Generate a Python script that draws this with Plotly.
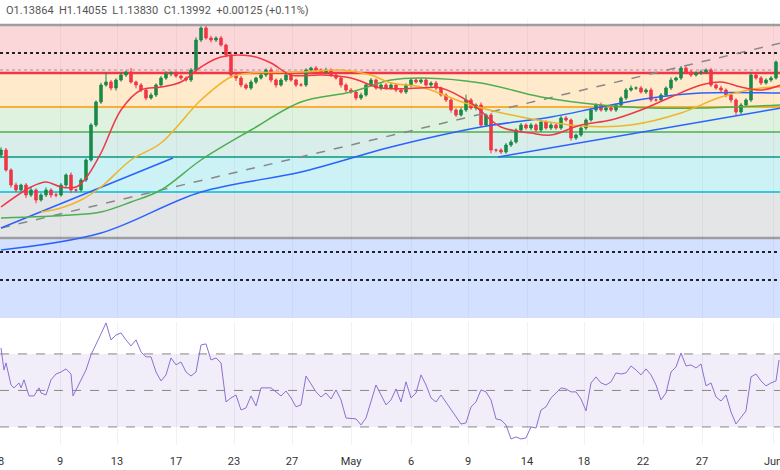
import plotly.graph_objects as go

closes = [1.1135,1.1075,1.1030,1.1015,1.1030,1.1000,1.1015,1.0985,1.1000,1.1015,1.1000,1.1000,1.1030,1.1060,1.1015,1.1015,1.1045,1.1105,1.1210,1.1279,
1.1330,1.1339,1.1321,1.1345,1.1360,1.1369,1.1339,1.1330,1.1315,1.1291,1.1300,1.1330,1.1351,1.1363,1.1366,1.1357,1.1351,1.1345,1.1375,1.1465,
1.1501,1.1471,1.1465,1.1471,1.1450,1.1420,1.1360,1.1351,1.1330,1.1321,1.1339,1.1351,1.1360,1.1375,1.1345,1.1330,1.1345,1.1360,1.1345,1.1330,
1.1330,1.1375,1.1381,1.1375,1.1369,1.1375,1.1360,1.1351,1.1330,1.1315,1.1309,1.1291,1.1300,1.1330,1.1345,1.1321,1.1330,1.1321,1.1330,1.1315,
1.1309,1.1330,1.1345,1.1339,1.1345,1.1330,1.1336,1.1321,1.1300,1.1285,1.1255,1.1240,1.1255,1.1285,1.1261,1.1270,1.1210,1.1240,1.1135,1.1135,
1.1129,1.1150,1.1159,1.1195,1.1210,1.1201,1.1210,1.1195,1.1219,1.1201,1.1210,1.1201,1.1231,1.1225,1.1171,1.1180,1.1201,1.1225,1.1255,1.1270,
1.1255,1.1261,1.1255,1.1270,1.1291,1.1315,1.1321,1.1321,1.1309,1.1315,1.1285,1.1285,1.1300,1.1321,1.1345,1.1351,1.1381,1.1369,1.1360,1.1366,
1.1369,1.1375,1.1330,1.1321,1.1315,1.1300,1.1285,1.1249,1.1270,1.1285,1.1360,1.1351,1.1336,1.1345,1.1351,1.1399]
first_open = 1.1120
up_wick = [8,6,5,7,4,6,9,5,6,8,5,7,6,5,8,4,6,5,6,5,
7,30,6,5,8,5,12,4,6,5,7,5,6,8,5,6,4,5,6,8,
5,6,7,5,6,4,10,5,6,5,7,4,6,5,8,5,6,5,7,4,
6,5,4,6,5,7,5,6,4,5,6,5,7,5,6,4,5,6,7,5,
6,5,4,6,5,7,5,6,4,5,6,5,7,16,6,5,8,5,6,4,
5,6,7,5,6,5,6,5,7,5,6,5,7,6,5,4,6,5,6,5,
7,5,6,4,5,6,8,5,6,5,7,5,6,5,8,4,6,5,6,5,
7,5,6,5,7,5,6,5,6,5,8,5,6,5,6,5]
dn_wick = [7,5,8,6,5,9,6,10,5,6,8,7,5,6,9,7,5,6,5,6,
6,5,7,8,5,6,5,10,6,7,5,6,5,6,7,5,6,5,6,5,
6,5,7,6,5,6,8,9,7,5,6,6,5,6,7,8,5,6,5,6,
5,6,5,7,6,5,6,5,8,6,5,7,6,5,6,5,7,6,5,6,
5,6,7,5,6,5,6,7,5,6,8,6,5,6,5,7,6,5,10,7,
6,5,6,5,6,5,7,5,6,5,6,5,6,5,8,6,5,6,5,6,
5,6,5,6,5,6,5,6,5,6,6,5,6,5,6,5,6,5,6,5,
6,5,6,5,6,7,8,10,6,5,6,5,6,5,6,5]

ma20_t = [0,6,9,12,15,17,20,24,28,32,36,40,44,50,54,58,64,70,76,84,88,94,100,106,110,116,122,128,134,140,144,148,152,156]
ma20 = [1.0964,1.1024,1.1039,1.1024,1.1024,1.1051,1.1126,1.1255,1.1315,1.1324,1.1339,1.1384,1.1414,1.1417,1.1396,1.1360,1.1360,1.1351,1.1321,1.1321,1.1321,1.1276,1.1204,1.1186,1.1180,1.1210,1.1225,1.1255,1.1294,1.1330,1.1339,1.1324,1.1315,1.1330]
ma50_t = [8,12,16,20,26,32,40,46,50,60,68,74,78,84,94,104,116,126,136,144,152,156]
ma50 = [1.0949,1.0961,1.0985,1.1024,1.1105,1.1156,1.1285,1.1354,1.1366,1.1369,1.1375,1.1360,1.1336,1.1324,1.1270,1.1234,1.1207,1.1210,1.1246,1.1294,1.1321,1.1324]
ma100_t = [0,14,20,26,32,40,50,60,70,78,84,96,108,120,130,140,156]
ma100 = [1.0931,1.0940,1.0949,1.0979,1.1015,1.1105,1.1195,1.1279,1.1309,1.1345,1.1351,1.1336,1.1294,1.1270,1.1261,1.1261,1.1270]
ma200_t = [0,20,40,60,78,96,110,120,130,140,156]
ma200 = [1.0835,1.0886,1.1009,1.1069,1.1144,1.1204,1.1234,1.1264,1.1291,1.1306,1.1306]

rsi_px = [0,3,5,10,13,18,20,23,28,33,38,40,45,50,55,60,65,70,72,80,85,90,95,100,105,110,115,120,125,130,135,140,145,150,155,160,165,170,175,180,185,190,195,200,205,210,215,220,225,230,235,240,245,250,255,260,265,270,280,285,290,295,300,305,310,315,320,325,330,335,340,345,355,360,365,370,375,380,385,390,395,400,405,410,415,420,425,430,435,440,447,453,460,465,470,475,480,485,490,495,500,505,510,515,520,525,530,535,540,545,550,555,560,565,570,575,580,585,590,595,600,605,610,615,620,625,630,635,640,645,650,655,660,665,670,675,680,685,690,695,700,705,710,715,720,725,730,735,740,745,750,755,760,765,770,775,778]
rsi = [73.3,61.2,65.1,53,51.4,54.1,51.4,55.8,47,47,51.4,48.6,47.5,55.8,59,60.1,61.8,59,47,55.8,61.2,69.5,74.9,81,87,77.7,80.4,81.5,77.7,74.4,77.7,71.1,68.4,68.4,60.1,55.2,58.5,67.8,64,65.6,60.1,57.9,60.1,74.9,75.5,66.7,67.8,65.1,43.7,45.9,47.5,39.3,40.4,47,41.5,51.4,51.4,51.4,47,49.7,45.9,41,42.1,57.9,53.6,49.2,46.4,48.6,45.3,50.3,44.8,34.9,34.4,31.1,34.9,43.7,53,47.5,42.1,44.8,50.8,43.7,54.7,45.9,48.6,58.5,53,45.9,43.7,47.5,42.1,37.1,31.6,32.2,41,43.7,50.3,49.2,44.8,34.4,33.8,31.1,23.4,24.5,23.4,24,30,29.4,39.3,41,45.9,48.6,51.4,50.8,49.2,49.2,45.3,38.8,54.1,57.4,54.1,53,54.7,59.6,59,59.6,63.4,61.2,58.5,61.8,58.5,53,44.8,48.6,60.1,62.9,70.5,63.4,64,62.3,64.5,52.5,54.1,46.4,44.2,47.5,38.2,31.6,35.5,38.8,57.4,59,55.2,52.5,54.1,55.2,66.7]
rsi_t = [p / 5 for p in rsi_px]

fib_levels = [1.1531,1.1510,1.1366,1.1264,1.1189,1.1114,1.1009,1.0871,1.0631]
band_colors = ["#ffffff","rgba(242,54,69,0.2)","rgba(255,152,0,0.2)","rgba(76,175,80,0.18)","rgba(0,137,123,0.15)","rgba(0,188,212,0.2)","rgba(120,123,134,0.2)","rgba(41,98,255,0.2)"]
line_colors = ["#9e9e9e","#f23645","#ff9800","#4caf50","#089981","#00bcd4","#9e9e9e"]
line_widths = [2.5,2.5,1.5,1.5,1.5,1.5,2.5]
dotted_levels = [1.1426,1.0829,1.0745]

tick_t = [0,11.8,23.2,35,46.6,58.2,70,82,93.4,105.2,116.6,128.4,140.2,154.4]
tick_labels = ["8","9","13","17","23","27","May","6","9","14","18","22","27","Jun"]

n = len(closes)
t = list(range(n))
opens = [first_open] + closes[:-1]
highs = [max(o, c) + u * 0.0001 for o, c, u in zip(opens, closes, up_wick)]
lows = [min(o, c) - d * 0.0001 for o, c, d in zip(opens, closes, dn_wick)]

fig = go.Figure()
shapes = []
for i in range(len(fib_levels) - 1):
    shapes.append(dict(type="rect", xref="paper", yref="y", x0=0, x1=1, y0=fib_levels[i+1], y1=fib_levels[i],
                       fillcolor=band_colors[i], line_width=0, layer="below"))
for i, lv in enumerate(fib_levels[1:-1]):
    shapes.append(dict(type="line", xref="paper", yref="y", x0=0, x1=1, y0=lv, y1=lv,
                       line=dict(color=line_colors[i], width=line_widths[i]), layer="below"))
for lv in dotted_levels:
    shapes.append(dict(type="line", xref="paper", yref="y", x0=0, x1=1, y0=lv, y1=lv,
                       line=dict(color="#222", width=2, dash="dot"), layer="below"))
shapes.append(dict(type="line", xref="paper", yref="y", x0=0, x1=1, y0=1.1375, y1=1.1375,
                   line=dict(color="#999", width=1, dash="dot"), layer="below"))
shapes.append(dict(type="rect", xref="paper", yref="y2", x0=0, x1=1, y0=30, y1=70,
                   fillcolor="rgba(126,87,194,0.1)", line_width=0, layer="below"))
for lv in [70, 50, 30]:
    shapes.append(dict(type="line", xref="paper", yref="y2", x0=0, x1=1, y0=lv, y1=lv,
                       line=dict(color="#888", width=1, dash="dash"), layer="below"))

fig.add_trace(go.Scatter(x=[0, 156], y=[1.0901, 1.1456], mode="lines", line=dict(color="#888", width=1.5, dash="dash"), hoverinfo="skip"))
fig.add_trace(go.Scatter(x=[0, 34.4], y=[1.0901, 1.1111], mode="lines", line=dict(color="#2962ff", width=1.5), hoverinfo="skip"))
fig.add_trace(go.Scatter(x=[99.4, 156], y=[1.1114, 1.1261], mode="lines", line=dict(color="#2962ff", width=1.5), hoverinfo="skip"))

for xs, ys, col in [(ma200_t, ma200, "#2962ff"), (ma100_t, ma100, "#4caf50"), (ma50_t, ma50, "#f0b429"), (ma20_t, ma20, "#f23645")]:
    fig.add_trace(go.Scatter(x=xs, y=ys, mode="lines", line=dict(color=col, width=1.5, shape="spline"), hoverinfo="skip"))

fig.add_trace(go.Candlestick(x=t, open=opens, high=highs, low=lows, close=closes,
                             increasing=dict(line=dict(color="#1b8a4a", width=1), fillcolor="#1b8a4a"),
                             decreasing=dict(line=dict(color="#f23645", width=1), fillcolor="#f23645"),
                             whiskerwidth=0))

fig.add_trace(go.Scatter(x=rsi_t, y=rsi, mode="lines", line=dict(color="#8e6fd0", width=1), xaxis="x2", yaxis="y2", hoverinfo="skip"))

fig.update_layout(
    width=780, height=470, margin=dict(l=0, r=0, t=0, b=0),
    paper_bgcolor="white", plot_bgcolor="white", showlegend=False,
    shapes=shapes,
    xaxis=dict(range=[-0.2, 155.8], domain=[0, 1], anchor="y", tickvals=tick_t, showticklabels=False, automargin=False,
               showgrid=True, gridcolor="rgba(0,0,0,0.04)", zeroline=False, rangeslider=dict(visible=False)),
    yaxis=dict(domain=[0.3234, 0.9617], range=[1.0631, 1.1531], showticklabels=False, showgrid=False, zeroline=False, automargin=False),
    xaxis2=dict(range=[-0.2, 155.8], domain=[0, 1], anchor="y2", tickvals=tick_t, ticktext=tick_labels, automargin=False,
                showgrid=True, gridcolor="rgba(0,0,0,0.05)", zeroline=False, ticks="outside", ticklen=6, tickcolor="white",
                ticklabeloverflow="allow",
                tickfont=dict(family="Roboto", size=11, color="#333")),
    yaxis2=dict(domain=[0.0532, 0.3149], range=[20.1, 87.5], showticklabels=False, showgrid=False, zeroline=False, automargin=False),
    annotations=[dict(xref="paper", yref="paper", x=0.005, y=0.995, xanchor="left", yanchor="top", showarrow=False,
                      text="O1.13864  H1.14055  L1.13830  C1.13992  +0.00125 (+0.11%)",
                      font=dict(family="Roboto", size=11, color="#555"))],
)
fig.write_html("out.html", config={"displayModeBar": False},
               post_script="document.body.style.margin='0';document.body.style.overflow='hidden';")
